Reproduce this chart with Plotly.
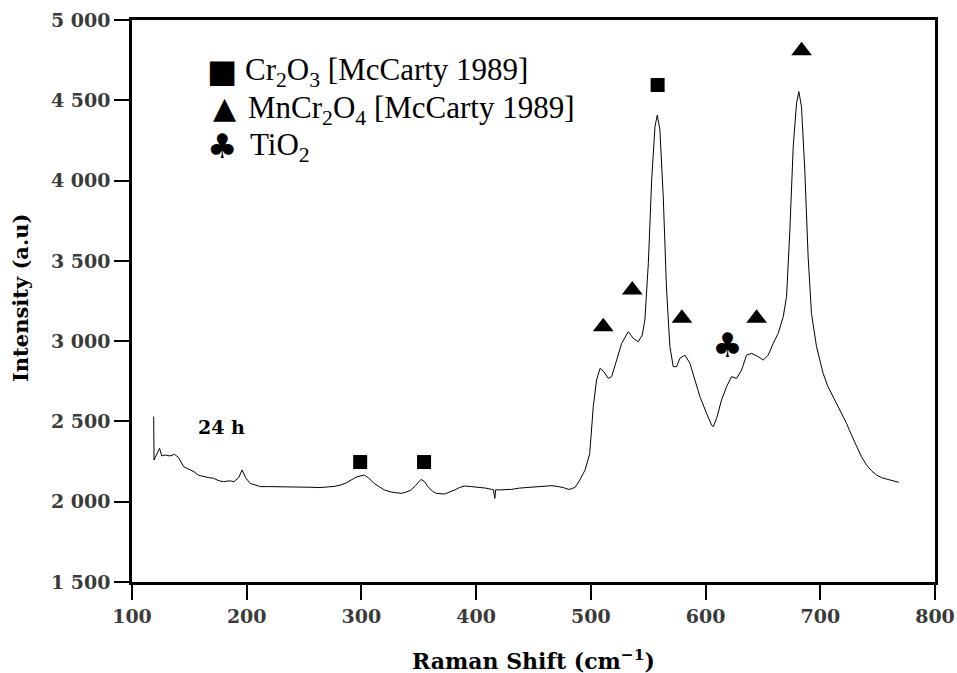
import plotly.graph_objects as go

# Raman spectrum (24 h)
raman_shift = [
    118.9, 119.2, 124, 126, 129, 133, 137, 140.5, 145, 150, 154, 158, 162.5, 167, 171,
    176, 180, 185, 189, 193, 196, 199, 203, 207, 212, 220, 227, 235, 241, 248, 256, 263,
    270, 276, 282, 287, 291, 296, 302.5, 306, 311, 316, 320, 326, 334.6, 339, 343.4, 347,
    352, 355, 358, 362, 365.3, 372.5, 377, 381.3, 386, 390, 396, 401.7, 408, 413.4, 415,
    416.3, 417, 419.2, 425, 430.9, 438, 445.5, 452, 460.1, 466, 471.7, 476, 480.5, 483,
    486.3, 490, 495, 499, 502.1, 505.0, 508.0, 511.4, 515.2, 518.1, 522.5, 526.8, 532.6,
    537.0, 541.3, 544.8, 547.1, 550.1, 553.0, 555.9, 557.9, 560.2, 563.1, 566.0, 568.9,
    571.8, 574.7, 577.6, 582.0, 586.4, 590.7, 595.1, 600.9, 605.2, 606.7, 609.6, 613.9,
    618.3, 622.6, 627.0, 631.4, 635.7, 640.1, 645.9, 650.2, 654.6, 659.0, 663.3, 667.7,
    670.6, 673.5, 676.4, 679.3, 681.3, 683.6, 686.5, 689.4, 692.3, 696.7, 702.5, 706.5,
    709.8, 714.2, 718.5, 722.9, 727.2, 731.6, 735.9, 740.3, 744.6, 749.0, 753.4, 757.7,
    763.5, 768.4,
]
intensity = [
    2530, 2260, 2332, 2285, 2291, 2285, 2295, 2276, 2218, 2200, 2187, 2165, 2156, 2150, 2146,
    2130, 2125, 2130, 2125, 2150, 2198, 2150, 2114, 2105, 2094, 2094, 2094, 2092, 2094, 2090,
    2090, 2088, 2090, 2095, 2104, 2118, 2135, 2155, 2166, 2150, 2114, 2090, 2073, 2060, 2052,
    2060, 2073, 2100, 2139, 2125, 2094, 2065, 2052, 2048, 2060, 2073, 2090, 2098, 2094, 2090,
    2085, 2077, 2075, 2021, 2075, 2073, 2075, 2077, 2085, 2090, 2095, 2098, 2100, 2094, 2088,
    2077, 2080, 2090, 2130, 2198, 2300, 2592, 2758, 2830, 2810, 2768, 2779, 2882, 2986, 3059,
    3017, 2996, 3038, 3132, 3485, 4003, 4336, 4408, 4315, 3900, 3318, 2966, 2841, 2841, 2893,
    2913, 2862, 2758, 2654, 2550, 2478, 2467, 2519, 2633, 2716, 2779, 2768, 2820, 2913, 2924,
    2903, 2882, 2913, 2986, 3049, 3152, 3277, 3692, 4211, 4481, 4554, 4460, 4066, 3526, 3173,
    2966, 2799, 2720, 2675, 2613, 2550, 2488, 2415, 2343, 2280, 2229, 2193, 2166, 2150, 2141,
    2131, 2121,
]

# peak assignments
cr2o3_x = [298.9, 354.6, 558.2]
cr2o3_y = [2247, 2247, 4595]
mncr2o4_x = [510.8, 536.1, 579.4, 644.5, 683.7]
mncr2o4_y = [3090, 3318, 3142, 3142, 4809]
tio2_x = [619.2]
tio2_y = [2955]

x_ticks = [100, 200, 300, 400, 500, 600, 700, 800]
y_ticks = [1500, 2000, 2500, 3000, 3500, 4000, 4500, 5000]

serif = "Liberation Serif"
bold_serif = "DejaVu Serif"
symfont = "DejaVu Sans"

fig = go.Figure()
fig.add_trace(go.Scatter(x=raman_shift, y=intensity, mode="lines",
                         line=dict(color="black", width=1)))
fig.add_trace(go.Scatter(x=cr2o3_x, y=cr2o3_y, mode="markers",
                         marker=dict(symbol="square", size=14, color="black")))
fig.add_trace(go.Scatter(x=mncr2o4_x, y=mncr2o4_y, mode="markers",
                         marker=dict(symbol="triangle-up", size=18, color="black")))
fig.add_trace(go.Scatter(x=tio2_x, y=tio2_y, mode="text", text=["♣"],
                         textfont=dict(family=symfont, size=34, color="black")))

# plot area in window pixels
L, R, T, B = 132, 935, 20, 582


def px(x):
    return (x - L) / (R - L)


def py(y):
    return 1 - (y - T) / (B - T)


legend_rows = [
    ("■", 222, 71, 32, "Cr<sub>2</sub>O<sub>3</sub> [McCarty 1989]", 243, 72),
    ("▲", 224, 108, 30, "MnCr<sub>2</sub>O<sub>4</sub> [McCarty 1989]", 246, 110),
    ("♣", 222, 146, 34, "TiO<sub>2</sub>", 248, 147),
]
for sym, sx, sy, ss, label, tx, ty in legend_rows:
    fig.add_annotation(x=px(sx), y=py(sy), xref="paper", yref="paper", text=sym,
                       showarrow=False, xanchor="center", yanchor="middle",
                       font=dict(family=symfont, size=ss, color="black"))
    fig.add_annotation(x=px(tx), y=py(ty), xref="paper", yref="paper", text=label,
                       showarrow=False, xanchor="left", yanchor="middle",
                       font=dict(family=serif, size=31, color="black"))

fig.add_annotation(x=156, y=2465, text="24 h", showarrow=False, xanchor="left",
                   yanchor="middle", font=dict(family=bold_serif, size=19, color="black", weight="bold"))

# axis titles
fig.add_annotation(x=0.5, y=py(660), xref="paper", yref="paper",
                   text="Raman Shift (cm<sup>−1</sup>)", showarrow=False,
                   xanchor="center", yanchor="middle",
                   font=dict(family=bold_serif, size=22, color="black", weight="bold"))
fig.add_annotation(x=px(20), y=py(298), xref="paper", yref="paper",
                   text="Intensity (a.u)", showarrow=False, textangle=-90,
                   xanchor="center", yanchor="middle",
                   font=dict(family=bold_serif, size=21, color="black", weight="bold"))

axis_common = dict(showline=True, linecolor="black", linewidth=2.5, mirror=True,
                   ticks="outside", ticklen=15, tickwidth=2, tickcolor="black",
                   showgrid=False, zeroline=False, automargin=False,
                   tickfont=dict(family=bold_serif, size=19, color="#3a3a3a", weight="bold"))

fig.update_xaxes(range=[100, 800], tickvals=x_ticks, **axis_common)
fig.update_yaxes(range=[1500, 5000], tickvals=y_ticks, tickformat=",d", **axis_common)

fig.update_layout(
    width=957, height=673,
    margin=dict(l=L, r=957 - R, t=T, b=673 - B),
    plot_bgcolor="white", paper_bgcolor="white",
    showlegend=False,
    separators=". ",
)

# drop the default page margin so the figure fills the window exactly
fig.write_html("out.html", config={"displayModeBar": False},
               post_script="document.body.style.margin = '0px';")
